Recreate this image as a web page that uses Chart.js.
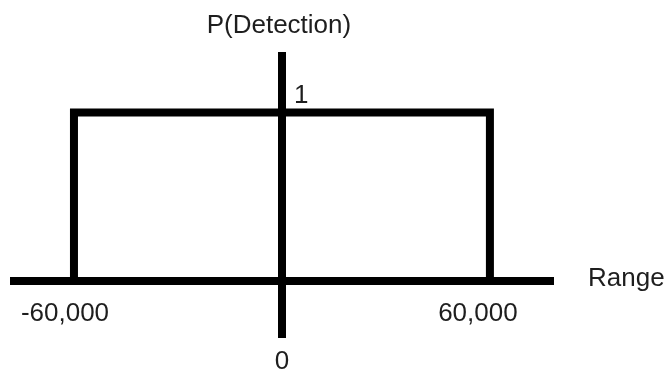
<!DOCTYPE html>
<html>
<head>
<meta charset="utf-8">
<title>P(Detection) vs Range</title>
<script src="https://cdn.jsdelivr.net/npm/chart.js@4/dist/chart.umd.min.js"></script>
<style>
    html, body { margin: 0; padding: 0; background: #fff; }
    #wrap { width: 664px; height: 373px; position: relative; }
</style>
</head>
<body>
<div id="wrap"><canvas id="detectionChart"></canvas></div>
<script>
// detection window: probability 1 between -60,000 and 60,000, 0 outside
const rangeValues = [-60000, -60000, 60000, 60000];
const detectionValues = [0, 1, 1, 0];

// text labels around the axes
const xTickValues = [-60000, 60000];
const xTickLabels = ["-60,000", "60,000"];
const yTickValues = [1];
const yTickLabels = ["1"];
const xAxisTitle = "Range";
const yAxisTitle = "P(Detection)";
const originLabel = "0";

const textFont = "26px 'Liberation Sans', Arial, sans-serif";
const textColor = "#1e1e1e";

const labelPlugin = {
    id: "axisLabels",
    afterDraw(chart) {
        const ctx = chart.ctx;
        const x = chart.scales.x;
        const y = chart.scales.y;
        const x0 = x.getPixelForValue(0);
        const y0 = y.getPixelForValue(0);

        ctx.save();
        ctx.font = textFont;
        ctx.fillStyle = textColor;
        ctx.textBaseline = "middle";

        // y title above the vertical axis
        ctx.textAlign = "center";
        ctx.fillText(yAxisTitle, x0 - 3, y.top - 30);

        // "0" under the bottom of the vertical axis
        ctx.fillText(originLabel, x0, y.bottom + 25);

        // range ticks under the horizontal axis
        const shifts = [-9, -12];
        xTickValues.forEach((v, i) => {
            ctx.fillText(xTickLabels[i], x.getPixelForValue(v) + shifts[i], y0 + 33);
        });

        // "1" just right of the vertical axis, above the top edge
        ctx.textAlign = "left";
        yTickValues.forEach((v, i) => {
            ctx.fillText(yTickLabels[i], x0 + 12, y.getPixelForValue(v) - 17);
        });

        // x title right of the horizontal axis
        ctx.fillText(xAxisTitle, x.right + 35, y0 - 2);
        ctx.restore();
    }
};

const points = rangeValues.map((r, i) => ({ x: r, y: detectionValues[i] }));

new Chart(document.getElementById("detectionChart"), {
    type: "line",
    data: {
        datasets: [{
            label: "P(Detection)",
            data: points,
            borderColor: "#000",
            borderWidth: 8,
            borderJoinStyle: "miter",
            borderCapStyle: "butt",
            pointRadius: 0,
            fill: false,
            tension: 0
        }]
    },
    options: {
        responsive: true,
        maintainAspectRatio: false,
        animation: false,
        layout: {
            padding: { left: 14, right: 111, top: 56, bottom: 36 }
        },
        plugins: {
            legend: { display: false },
            tooltip: { enabled: false }
        },
        scales: {
            x: {
                type: "linear",
                min: -77300,
                max: 78200,
                position: { y: 0 },
                grid: { display: false },
                ticks: { display: false },
                border: { display: true, color: "#000", width: 8 }
            },
            y: {
                type: "linear",
                min: -0.332,
                max: 1.335,
                position: { x: 0 },
                grid: { display: false },
                ticks: { display: false },
                border: { display: true, color: "#000", width: 8 }
            }
        }
    },
    plugins: [labelPlugin]
});
</script>
</body>
</html>
